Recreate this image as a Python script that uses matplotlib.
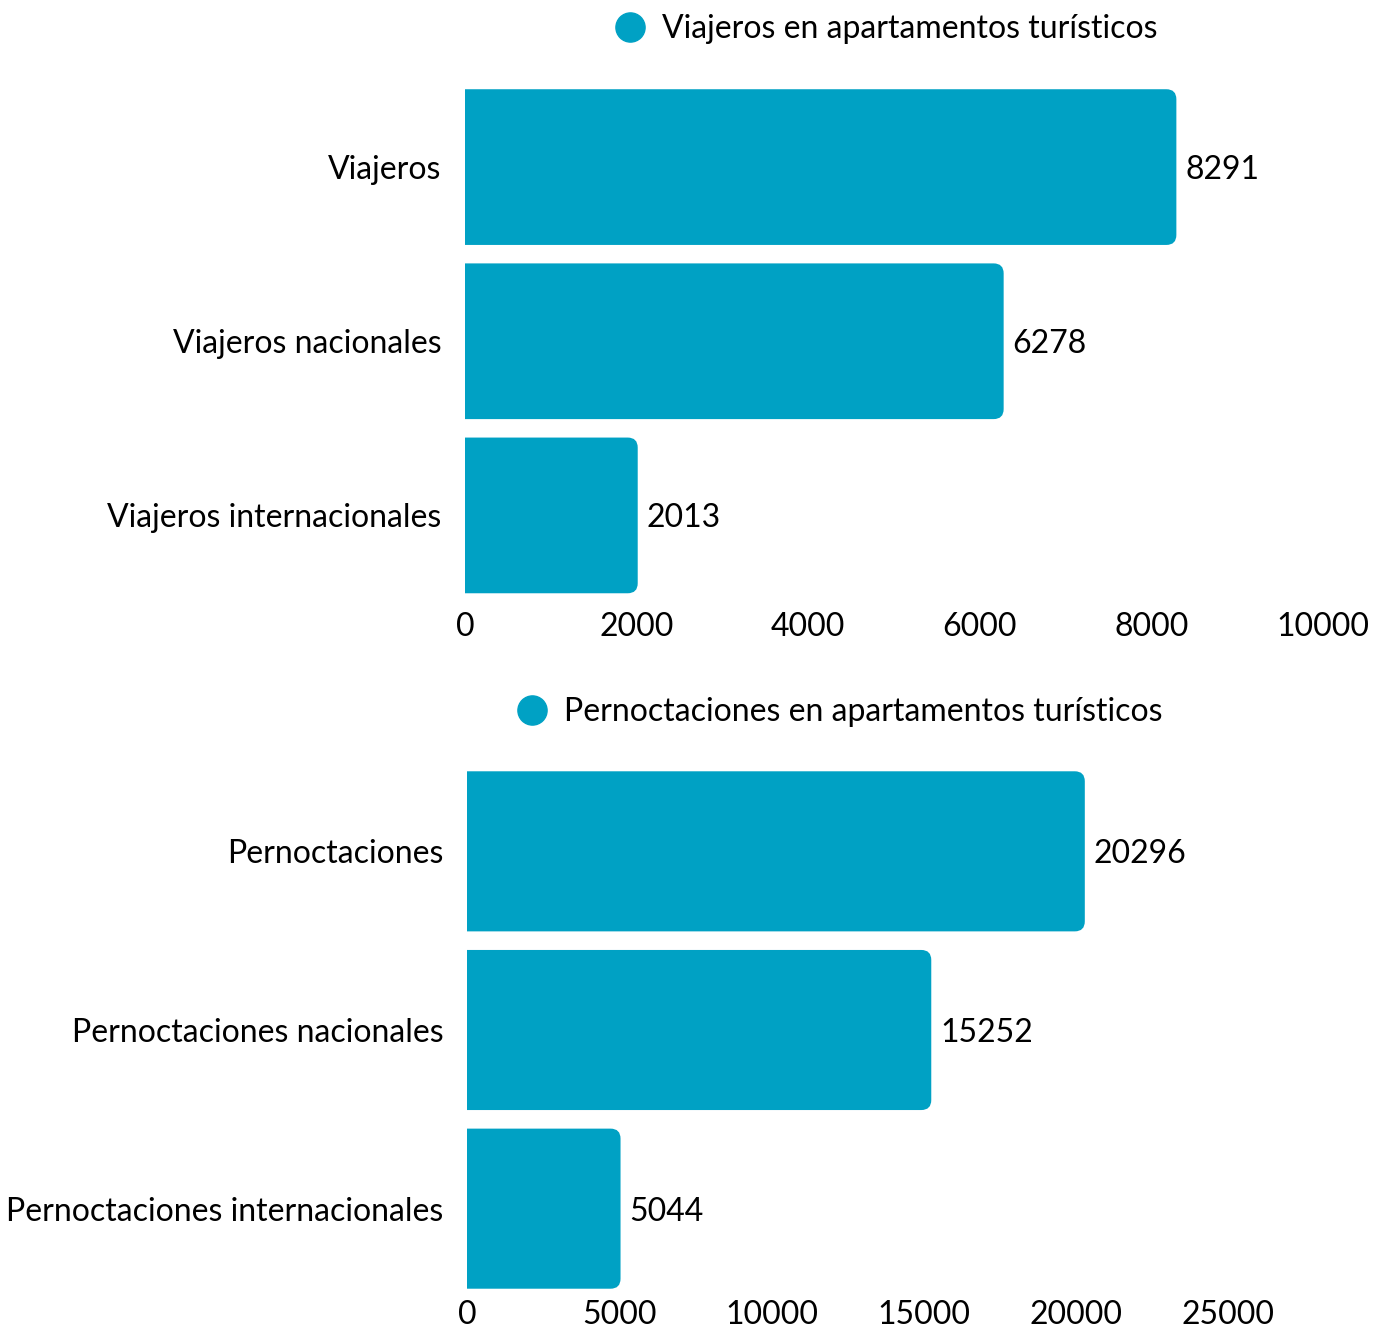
import matplotlib
matplotlib.use("Agg")
import matplotlib.pyplot as plt
from matplotlib.patches import PathPatch
from matplotlib.path import Path
from matplotlib.lines import Line2D

plt.rcParams['font.family'] = ['Lato', 'DejaVu Sans']

# Data
viajeros_cats = ["Viajeros", "Viajeros nacionales", "Viajeros internacionales"]
viajeros_vals = [8291, 6278, 2013]
viajeros_ticks = [0, 2000, 4000, 6000, 8000, 10000]
viajeros_title = "Viajeros en apartamentos turísticos"

pernoct_cats = ["Pernoctaciones", "Pernoctaciones nacionales", "Pernoctaciones internacionales"]
pernoct_vals = [20296, 15252, 5044]
pernoct_ticks = [0, 5000, 10000, 15000, 20000, 25000]
pernoct_title = "Pernoctaciones en apartamentos turísticos"

COLOR = "#00A1C4"
FS = 23
W, H, DPI = 1373, 1328, 100

fig = plt.figure(figsize=(W / DPI, H / DPI), dpi=DPI)


def right_rounded(x0, y0, w, h, rx, ry):
    """Path of a rectangle whose two right-hand corners are rounded."""
    x1, y1 = x0 + w, y0 + h
    rx = min(rx, w)
    verts = [(x0, y0), (x1 - rx, y0), (x1, y0), (x1, y0 + ry),
             (x1, y1 - ry), (x1, y1), (x1 - rx, y1), (x0, y1), (x0, y0)]
    codes = [Path.MOVETO, Path.LINETO, Path.CURVE3, Path.CURVE3,
             Path.LINETO, Path.CURVE3, Path.CURVE3, Path.LINETO, Path.CLOSEPOLY]
    return Path(verts, codes)


def panel(rect, cats, vals, ticks, title, bar_h, tick_pad, leg_x, leg_y):
    ax = fig.add_axes(rect)
    y = list(range(len(cats)))
    bars = ax.barh(y, vals, height=bar_h, color=COLOR)
    ax.set_xlim(ticks[0], ticks[-1])
    ax.set_ylim(len(cats) - 0.5, -0.5)
    ax.set_yticks(y)
    ax.set_yticklabels(cats, fontsize=FS)
    ax.set_xticks(ticks)
    ax.set_xticklabels([str(t) for t in ticks], fontsize=FS)
    ax.tick_params(axis='both', length=0)
    ax.tick_params(axis='y', pad=17)
    ax.tick_params(axis='x', pad=tick_pad)
    for s in ax.spines.values():
        s.set_visible(False)

    # Bars rounded on the right end only
    ax_w_px = rect[2] * W
    ax_h_px = rect[3] * H
    x_per_px = (ticks[-1] - ticks[0]) / ax_w_px
    y_per_px = len(cats) / ax_h_px
    r_px = 10
    for b, v in zip(bars, vals):
        x0, y0 = b.get_x(), b.get_y()
        w, h = b.get_width(), b.get_height()
        b.set_visible(False)
        ax.add_patch(PathPatch(right_rounded(x0, y0, w, h, r_px * x_per_px, r_px * y_per_px),
                               facecolor=COLOR, edgecolor='none'))
        ax.text(v + 9 * x_per_px, y0 + h / 2, str(v), va='center_baseline', ha='left',
                fontsize=FS, color='black')

    handle = Line2D([], [], marker='o', linestyle='none', markersize=21,
                    markerfacecolor=COLOR, markeredgecolor=COLOR)
    ax.legend([handle], [title], loc='center', bbox_to_anchor=(leg_x, leg_y),
              frameon=False, fontsize=FS, handlelength=1.0, handletextpad=0.5,
              borderaxespad=0, borderpad=0)
    return ax


panel([465 / W, 1 - 602.5 / H, 858 / W, 522.5 / H], viajeros_cats, viajeros_vals,
      viajeros_ticks, viajeros_title, 0.894, 7, (886 - 465) / 858, 1 + 51 / 522.5)
panel([467 / W, 1 - 1298 / H, 761 / W, 536 / H], pernoct_cats, pernoct_vals,
      pernoct_ticks, pernoct_title, 0.896, 1.5, (839 - 467) / 761, 1 + 50 / 536)

fig.savefig("out.png", dpi=DPI, facecolor='white')
